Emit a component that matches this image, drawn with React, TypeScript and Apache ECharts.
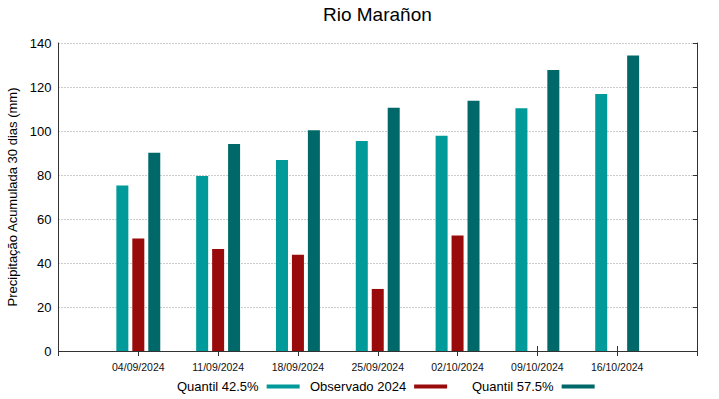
import React, { useEffect, useRef } from "react";
import * as echarts from "echarts";

const dates = ["04/09/2024", "11/09/2024", "18/09/2024", "25/09/2024", "02/10/2024", "09/10/2024", "16/10/2024"];
const quantil425 = [75.2, 79.6, 86.8, 95.4, 97.8, 110.3, 116.8];
const observado2024: (number | null)[] = [51.1, 46.4, 43.8, 28.2, 52.5, null, null];
const quantil575 = [90.1, 94.1, 100.3, 110.6, 113.8, 127.7, 134.3];
const yTicks = { min: 0, max: 140, interval: 20 };

const FONT = "'Liberation Sans', Arial, sans-serif";
const C1 = "#009a9a";
const C2 = "#990b0b";
const C3 = "#006868";

export default function App() {
  const ref = useRef<HTMLDivElement>(null);
  useEffect(() => {
    if (!ref.current) return;
    const chart = echarts.init(ref.current, undefined, { renderer: "svg" });
    const cats = ["", ...dates, ""];
    const pad = (arr: (number | null)[]) => ["-", ...arr.map((v) => (v == null ? "-" : v)), "-"];
    const legendBase = {
      orient: "horizontal" as const,
      align: "right" as const,
      top: 380,
      padding: 0,
      itemWidth: 33,
      itemHeight: 4,
      icon: "rect",
      textStyle: { fontFamily: FONT, fontSize: 13, color: "#000", padding: [0, 3, 0, 0] },
    };
    chart.setOption({
      animation: false,
      backgroundColor: "#fff",
      textStyle: { fontFamily: FONT },
      title: {
        text: "Rio Marañon",
        left: 323,
        top: 5,
        padding: 0,
        textStyle: { fontFamily: FONT, fontSize: 19, fontWeight: "normal", color: "#000" },
      },
      grid: { left: 58.5, right: 22, top: 43, bottom: 48, outerBoundsMode: "none", containLabel: false },
      legend: [
        { ...legendBase, left: 177, data: ["Quantil 42.5%"] },
        { ...legendBase, left: 310, data: ["Observado 2024"] },
        { ...legendBase, left: 472, data: ["Quantil 57.5%"] },
      ],
      xAxis: [
        {
          type: "category",
          data: cats,
          boundaryGap: false,
          position: "bottom",
          axisLine: { show: true, lineStyle: { color: "#333", width: 1 } },
          axisTick: { show: true, inside: true, length: 5, interval: 0, lineStyle: { color: "#333" } },
          axisLabel: { interval: 0, fontSize: 10.5, color: "#111", fontFamily: FONT, margin: 10 },
          splitLine: { show: false },
        },
        {
          type: "category",
          data: cats,
          boundaryGap: false,
          position: "top",
          axisLine: { show: true, lineStyle: { color: "#333", width: 1 } },
          axisTick: { show: true, inside: true, length: 5, interval: 0, lineStyle: { color: "#333" } },
          axisLabel: { show: false },
          splitLine: { show: false },
        },
      ],
      yAxis: [
        {
          type: "value",
          min: yTicks.min,
          max: yTicks.max,
          interval: yTicks.interval,
          name: "Precipitação Acumulada 30 dias (mm)",
          nameLocation: "middle",
          nameGap: 33,
          nameTextStyle: { fontFamily: FONT, fontSize: 13, color: "#000" },
          axisLine: { show: true, lineStyle: { color: "#333", width: 1 } },
          axisTick: { show: false },
          axisLabel: { fontSize: 13, color: "#000", fontFamily: FONT, margin: 7 },
          splitLine: { show: true, lineStyle: { type: [1, 2], color: "#999", width: 1 } },
        },
        {
          type: "value",
          min: yTicks.min,
          max: yTicks.max,
          interval: yTicks.interval,
          position: "right",
          axisLine: { show: true, lineStyle: { color: "#333", width: 1 } },
          axisTick: { show: true, inside: true, length: 4, lineStyle: { color: "#333" } },
          axisLabel: { show: false },
          splitLine: { show: false },
        },
      ],
      series: [
        {
          name: "Quantil 42.5%",
          type: "bar",
          data: pad(quantil425),
          barWidth: 12,
          barGap: "33%",
          itemStyle: { color: C1 },
        },
        {
          name: "Observado 2024",
          type: "bar",
          data: pad(observado2024),
          barWidth: 12,
          barGap: "33%",
          itemStyle: { color: C2 },
        },
        {
          name: "Quantil 57.5%",
          type: "bar",
          data: pad(quantil575),
          barWidth: 12,
          barGap: "33%",
          itemStyle: { color: C3 },
        },
      ],
    });
    return () => chart.dispose();
  }, []);
  return (
    <div
      ref={ref}
      style={{ position: "fixed", left: 0, top: 0, width: 719, height: 399, background: "#fff" }}
    />
  );
}
